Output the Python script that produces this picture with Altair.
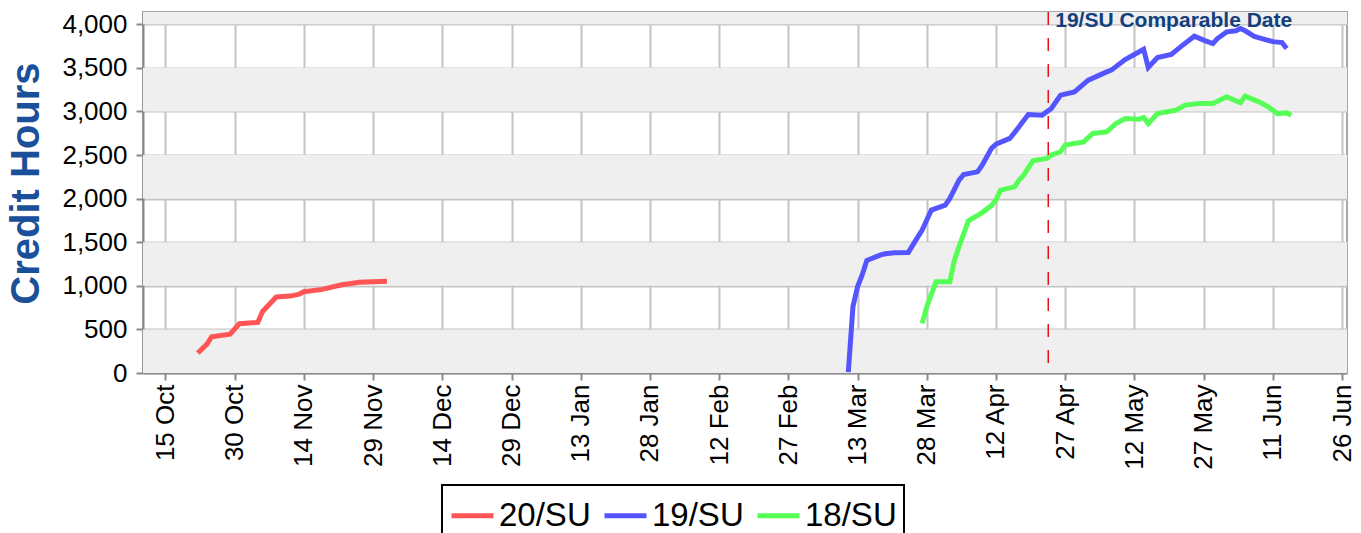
import altair as alt
import pandas as pd

# ---------------- data ----------------
tick_dates = ["2019-10-15", "2019-10-30", "2019-11-14", "2019-11-29", "2019-12-14",
              "2019-12-29", "2020-01-13", "2020-01-28", "2020-02-12", "2020-02-27",
              "2020-03-13", "2020-03-28", "2020-04-12", "2020-04-27", "2020-05-12",
              "2020-05-27", "2020-06-11", "2020-06-26"]
y_ticks = [0, 500, 1000, 1500, 2000, 2500, 3000, 3500, 4000]

series_names = ["20/SU", "19/SU", "18/SU"]
series_colors = ["#ff5555", "#5555ff", "#55ff55"]

red_dates = ["2019-10-22", "2019-10-24", "2019-10-25", "2019-10-29", "2019-10-31",
             "2019-11-04", "2019-11-05", "2019-11-08", "2019-11-11", "2019-11-13",
             "2019-11-14", "2019-11-18", "2019-11-22", "2019-11-26", "2019-12-02"]
red_values = [230, 332, 416, 445, 565, 580, 703, 872, 882, 905, 932, 959, 1009, 1040, 1051]

blue_dates = ["2020-03-11", "2020-03-12", "2020-03-13", "2020-03-14", "2020-03-15",
              "2020-03-18", "2020-03-19", "2020-03-21", "2020-03-24", "2020-03-26",
              "2020-03-27", "2020-03-28", "2020-03-29", "2020-04-01", "2020-04-02",
              "2020-04-04", "2020-04-05", "2020-04-08", "2020-04-09", "2020-04-11",
              "2020-04-12", "2020-04-15", "2020-04-17", "2020-04-19", "2020-04-22",
              "2020-04-24", "2020-04-26", "2020-04-29", "2020-05-02", "2020-05-06",
              "2020-05-07", "2020-05-10", "2020-05-12", "2020-05-14", "2020-05-15",
              "2020-05-17", "2020-05-20", "2020-05-22", "2020-05-25", "2020-05-27",
              "2020-05-29", "2020-05-30", "2020-06-01", "2020-06-03", "2020-06-04",
              "2020-06-05", "2020-06-07", "2020-06-09", "2020-06-11", "2020-06-13",
              "2020-06-14"]
blue_values = [10, 760, 990, 1125, 1290, 1355, 1368, 1380, 1383, 1555,
               1640, 1754, 1868, 1925, 2002, 2212, 2277, 2307, 2384, 2575,
               2625, 2690, 2823, 2965, 2957, 3033, 3186, 3224, 3358, 3453,
               3473, 3595, 3653, 3713, 3504, 3618, 3653, 3740, 3862, 3817,
               3778, 3836, 3912, 3925, 3950, 3925, 3860, 3830, 3800, 3790,
               3721]

green_dates = ["2020-03-27", "2020-03-28", "2020-03-30", "2020-04-02", "2020-04-03",
               "2020-04-04", "2020-04-06", "2020-04-09", "2020-04-11", "2020-04-12",
               "2020-04-13", "2020-04-16", "2020-04-17", "2020-04-18", "2020-04-20",
               "2020-04-23", "2020-04-24", "2020-04-26", "2020-04-27", "2020-05-01",
               "2020-05-03", "2020-05-06", "2020-05-08", "2020-05-10", "2020-05-13",
               "2020-05-14", "2020-05-15", "2020-05-17", "2020-05-21", "2020-05-23",
               "2020-05-26", "2020-05-29", "2020-06-01", "2020-06-04", "2020-06-05",
               "2020-06-08", "2020-06-10", "2020-06-12", "2020-06-14", "2020-06-15"]
green_values = [570, 760, 1046, 1046, 1295, 1450, 1745, 1840, 1920, 1985,
                2097, 2135, 2212, 2269, 2433, 2461, 2499, 2537, 2613, 2651,
                2747, 2766, 2862, 2919, 2910, 2930, 2860, 2975, 3014, 3072,
                3091, 3090, 3167, 3100, 3175, 3110, 3052, 2975, 2983, 2957]

band_starts = [0, 1000, 2000, 3000, 4000]
band_ends = [500, 1500, 2500, 3500, 4140]

comparable_date = ["2020-04-23T08:00:00"]
annotation_label = ["19/SU Comparable Date"]
annotation_value = [3965]

x_domain = ["2019-10-10T03:00:00", "2020-06-27T02:00:00"]
y_domain = [0, 4140]


def ms(s):
    return int(pd.Timestamp(s, tz="UTC").value // 10**6)


# ---------------- tables ----------------
rows = []
for name, ds, vs in zip(series_names, [red_dates, blue_dates, green_dates],
                        [red_values, blue_values, green_values]):
    for d, v in zip(ds, vs):
        rows.append({"series": name, "date": ms(d), "hours": v})
lines_df = pd.DataFrame(rows)
bands_df = pd.DataFrame({"y0": band_starts, "y1": band_ends})
rule_df = pd.DataFrame({"date": [ms(d) for d in comparable_date],
                        "label": annotation_label, "hours": annotation_value})

xscale = alt.Scale(type="utc", domain=[ms(d) for d in x_domain], nice=False)
yscale = alt.Scale(domain=y_domain, nice=False, zero=False)


def xaxis():
    return alt.Axis(values=[ms(d) for d in tick_dates],
                    labelExpr="utcFormat(datum.value, '%d %b')",
                    labelAngle=270, labelPadding=4, tickSize=7, grid=True,
                    labelOverlap=False, labelFlush=False, title=None)


def yaxis():
    return alt.Axis(values=y_ticks, labelExpr="format(datum.value, ',')",
                    labelPadding=9, tickSize=7, grid=True,
                    title="Credit Hours", titleFontSize=40, titleFontWeight="bold",
                    titleColor="#1a4f99", titlePadding=15, titleY=171,
                    titleFont="Liberation Sans")


bands = alt.Chart(bands_df).mark_rect(color="#efefef").encode(
    y=alt.Y("y0:Q", scale=yscale, axis=yaxis()),
    y2="y1:Q",
)

lines = alt.Chart(lines_df).mark_line(strokeWidth=5, strokeCap="butt").encode(
    x=alt.X("date:T", scale=xscale, axis=xaxis()),
    y=alt.Y("hours:Q", scale=yscale, axis=yaxis()),
    color=alt.Color("series:N", title=None,
                    scale=alt.Scale(domain=series_names, range=series_colors),
                    sort=series_names),
    detail="series:N",
)

rule = alt.Chart(rule_df).mark_rule(color="#e8101a", strokeWidth=1.5,
                                    strokeDash=[13, 13]).encode(
    x=alt.X("date:T", scale=xscale, axis=xaxis()),
)

label = alt.Chart(rule_df).mark_text(align="left", baseline="alphabetic", dx=7,
                                     fontSize=21, fontWeight="bold",
                                     font="Liberation Sans", color="#123f7d").encode(
    x=alt.X("date:T", scale=xscale, axis=xaxis()),
    y=alt.Y("hours:Q", scale=yscale, axis=yaxis()),
    text="label:N",
)

chart = alt.layer(bands, lines, rule, label).properties(
    width=1204, height=361,
    padding={"left": 135, "top": 4, "right": 6, "bottom": 160},
    autosize=alt.AutoSizeParams(type="none"),
).configure_view(
    stroke="#a8a8a8", strokeWidth=2,
).configure_axis(
    labelFont="Liberation Sans", labelFontSize=26, labelColor="#000000",
    gridColor="#c4c4c4", gridWidth=2,
    domainColor="#8a8a8a", domainWidth=2,
    tickColor="#8a8a8a", tickWidth=2,
).configure_legend(
    orient="none", legendX=299, legendY=473, direction="horizontal",
    strokeColor="#000000", strokeWidth=2, fillColor="#ffffff", padding=7,
    labelFont="Liberation Sans", labelFontSize=33, labelColor="#000000",
    labelOffset=3, columnPadding=3, symbolType="stroke", symbolSize=1764,
    symbolStrokeWidth=5, cornerRadius=0,
)

chart.save("out.html", embed_options={"renderer": "svg", "actions": False})
